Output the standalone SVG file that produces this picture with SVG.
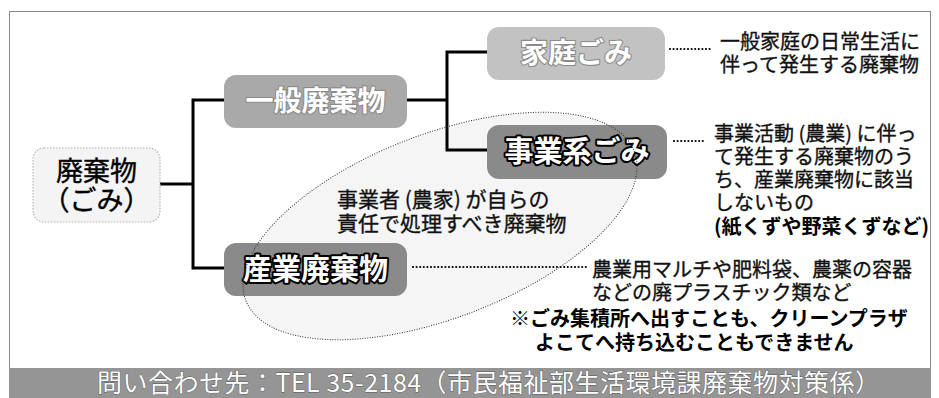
<svg xmlns="http://www.w3.org/2000/svg" width="939" height="398" viewBox="0 0 939 398">
<style>
text{font-family:"Noto Sans CJK JP","Noto Sans",sans-serif;}
.conn{fill:none;stroke:#000;stroke-width:3;}
.dots{fill:none;stroke:#000;stroke-width:2.2;stroke-linecap:round;stroke-dasharray:0 3.6;}
.desc{font-size:20px;fill:#111;stroke:#111;stroke-width:0.35;}
.descb{font-size:20px;fill:#000;font-weight:bold;}
.light{font-size:28px;font-weight:bold;fill:#fff;stroke:#8a8a8a;stroke-width:2.2;paint-order:stroke;stroke-linejoin:round;}
.strong{font-size:29px;font-weight:bold;fill:#fff;stroke:#000;stroke-width:4;paint-order:stroke;stroke-linejoin:round;}
</style>
<rect x="0" y="0" width="939" height="398" fill="#fff"/>
<rect x="9.5" y="11.5" width="921" height="357" fill="none" stroke="#8a8a8a" stroke-width="1"/>
<ellipse id="area-fill" cx="440" cy="226" rx="208" ry="92" transform="rotate(-21 440 226)" fill="#f5f5f5"/>
<g id="connectors">
<path class="conn" d="M160 184 H193"/>
<path class="conn" d="M224 100 H193 V268 H224"/>
<path class="conn" d="M407 100 H447"/>
<path class="conn" d="M487 52 H447 V150 H487"/>
<path class="dots" d="M670 49 H713"/>
<path class="dots" d="M674 141 H705"/>
<path class="dots" d="M413 267 H588"/>
</g>
<g id="node-haikibutsu">
<rect x="33" y="148" width="127" height="74" rx="11" fill="#f4f4f4" stroke="#b5b5b5" stroke-width="1.2" stroke-dasharray="1.5 1.5"/>
<text font-size="27" text-anchor="middle" fill="#000" stroke="#000" stroke-width="0.4"><tspan x="96.5" y="181">廃棄物</tspan><tspan x="96.5" y="210">（ごみ）</tspan></text>
</g>
<g id="node-ippan">
<rect x="224" y="75" width="183" height="53" rx="12" fill="#a9a9a9"/>
<text class="light" x="315.5" y="111" text-anchor="middle">一般廃棄物</text>
</g>
<g id="node-katei">
<rect x="487" y="27" width="178" height="53" rx="12" fill="#c2c2c2"/>
<text class="light" x="576" y="63" text-anchor="middle">家庭ごみ</text>
</g>
<g id="node-jigyokei">
<rect x="487" y="125" width="180" height="54" rx="12" fill="#8a8a8a"/>
<text class="strong" x="577" y="162" text-anchor="middle">事業系ごみ</text>
</g>
<g id="node-sangyo">
<rect x="224" y="243" width="183" height="53" rx="12" fill="#8a8a8a"/>
<text class="strong" x="315.5" y="280" text-anchor="middle">産業廃棄物</text>
</g>
<g id="area-outline">
<ellipse cx="440" cy="226" rx="208" ry="92" transform="rotate(-21 440 226)" fill="none" stroke="#333" stroke-width="1" stroke-dasharray="1 1.5"/>
<text font-size="21" fill="#111" stroke="#111" stroke-width="0.35"><tspan x="337" y="207">事業者 (農家) が自らの</tspan><tspan x="337" y="231">責任で処理すべき廃棄物</tspan></text>
</g>
<g id="desc-katei">
<text class="desc"><tspan x="720" y="49">一般家庭の日常生活に</tspan><tspan x="720" y="72">伴って発生する廃棄物</tspan></text>
</g>
<g id="desc-jigyokei">
<text class="desc"><tspan x="714" y="141">事業活動 (農業) に伴っ</tspan><tspan x="714" y="164">て発生する廃棄物のう</tspan><tspan x="714" y="187">ち、産業廃棄物に該当</tspan><tspan x="714" y="210">しないもの</tspan></text>
<text class="descb" x="714" y="234">(紙くずや野菜くずなど)</text>
</g>
<g id="desc-sangyo">
<text class="desc"><tspan x="592" y="277">農業用マルチや肥料袋、農薬の容器</tspan><tspan x="592" y="300">などの廃プラスチック類など</tspan></text>
<text class="descb"><tspan x="510" y="326">※ごみ集積所へ出すことも、クリーンプラザ</tspan><tspan x="535" y="350">よこてへ持ち込むこともできません</tspan></text>
</g>
<g id="footer">
<rect x="9" y="368" width="922" height="30" fill="#959595"/>
<text x="97" y="392" font-size="25" fill="#fff" stroke="#555" stroke-width="0.8" paint-order="stroke" textLength="783" lengthAdjust="spacing">問い合わせ先：TEL 35-2184（市民福祉部生活環境課廃棄物対策係）</text>
</g>
</svg>
